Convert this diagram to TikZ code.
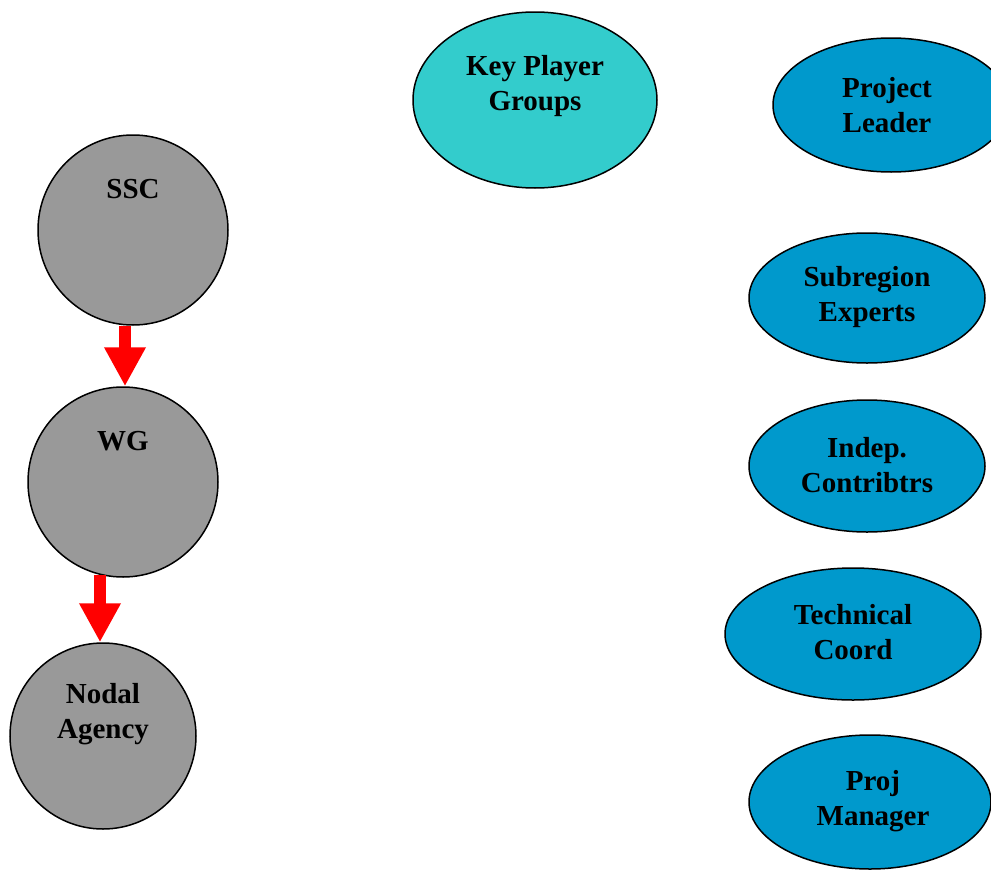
\documentclass[tikz,border=0pt]{standalone}
\usepackage{fontspec}
\setmainfont{Liberation Serif}
\usetikzlibrary{shapes.geometric,arrows.meta}
\definecolor{greyfill}{HTML}{999999}
\definecolor{tealfill}{HTML}{33CCCC}
\definecolor{bluefill}{HTML}{0099CC}
\begin{document}
\begin{tikzpicture}[x=1pt,y=-1pt,
  circ/.style={circle,draw=black,line width=1.5pt,fill=greyfill,inner sep=0pt,minimum size=#1},
  ell/.style={ellipse,draw=black,line width=1.5pt,inner sep=0pt},
  lbl/.style={align=center,font=\bfseries\fontsize{29}{35}\selectfont,inner sep=0pt},
  redarrow/.style={draw=red,line width=12pt,-{Triangle[width=39pt,length=39pt,fill=red,color=red]}}
]
\clip (0,0) rectangle (991,870);
\useasboundingbox (0,0) rectangle (991,870);
% circles
\node[circ=190pt] (ssc) at (133,230) {};
\node[circ=190pt] (wg) at (123,482) {};
\node[circ=186pt] (nodal) at (103,736) {};
\node[lbl] (ssct) at (133,189) {SSC};
\node[lbl] (wgt) at (123,441) {WG};
\node[lbl] (nodalt) at (103,714) {Nodal\\Agency};
% arrows
\draw[redarrow] ([xshift=-8pt]ssc.south) -- ([xshift=-8pt]ssc.south |- wg.north);
\draw[redarrow] ([xshift=-23pt,yshift=3pt]wg.south) -- ([xshift=-23pt]wg.south |- nodal.north);
% ellipses
\node[ell,fill=tealfill,minimum width=244pt,minimum height=176pt] (kpg) at (535,100) {};
\node[lbl] (kpgt) at (535,86) {Key Player\\Groups};
\node[ell,fill=bluefill,minimum width=236pt,minimum height=134pt] (pl) at (891,105) {};
\node[lbl] (plt) at (887,105) {Project\\Leader};
\node[ell,fill=bluefill,minimum width=236pt,minimum height=130pt] (se) at (867,298) {};
\node[lbl] (set) at (867,297) {Subregion\\Experts};
\node[ell,fill=bluefill,minimum width=236pt,minimum height=132pt] (ic) at (867,466) {};
\node[lbl] (ict) at (867,465) {Indep.\\Contribtrs};
\node[ell,fill=bluefill,minimum width=256pt,minimum height=132pt] (tc) at (853,634) {};
\node[lbl] (tct) at (853,632) {Technical\\Coord};
\node[ell,fill=bluefill,minimum width=242pt,minimum height=134pt] (pm) at (870,802) {};
\node[lbl] (pmt) at (873,801) {Proj\\Manager};
\end{tikzpicture}
\end{document}
